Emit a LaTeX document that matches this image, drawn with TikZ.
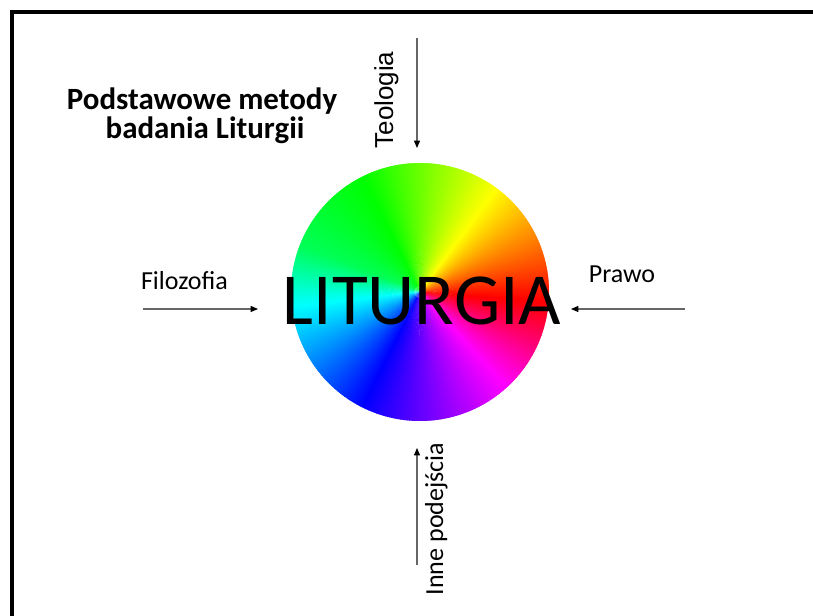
\documentclass[tikz,border=0pt]{standalone}
\usepackage{fontspec}
\setmainfont{Carlito}
\newfontfamily\arialf{Liberation Sans}
\usetikzlibrary{arrows.meta}
\tikzset{
  lbl/.style={inner sep=0pt, font=\fontsize{19.5}{22}\selectfont},
  conn/.style={draw=black!60, line width=0.8pt, -{Triangle[length=5.5pt,width=4.5pt,color=black]}},
}
\begin{document}
\begin{tikzpicture}[x=0.75pt,y=0.75pt]
\useasboundingbox (0,0) rectangle (813,616);
\fill[white] (0,0) rectangle (813,616);
% border (top and left)
\fill[black] (10,602) rectangle (813,606);
\fill[black] (10,0) rectangle (14,606);
% colour wheel (angle -> hue, piecewise)
\coordinate (c) at (420,324);
\foreach \aa/\ha/\ab/\hb in {-5/0/53/60, 53/60/116/120, 116/120/158/140, 158/140/186/180, 186/180/243/240, 243/240/312/300, 312/300/355/360}{
  \pgfmathtruncatemacro{\abm}{\ab-1}
  \foreach \a in {\aa,...,\abm}{
    \pgfmathsetmacro{\hh}{mod(\ha+(\a-\aa)*(\hb-\ha)/(\ab-\aa)+360,360)}
    \definecolor{wc}{Hsb}{\hh,1,1}
    \fill[wc] (c) -- ++(\a:129) arc[start angle=\a, end angle=\a+1.6, radius=129] -- cycle;
  }
}
\fill[white, opacity=0.25] (c) circle[radius=6];
\node[inner sep=0pt, font=\fontsize{55}{60}\selectfont, anchor=base] (lit) at (422,291) {LITURGIA};
% title
\node[inner sep=0pt, anchor=base, font=\bfseries\fontsize{23.2}{26}\selectfont] (t1) at (202,506) {Podstawowe metody};
\node[inner sep=0pt, anchor=base, font=\bfseries\fontsize{23.2}{26}\selectfont] (t2) at (205,477) {badania Liturgii};
% labels
\node[lbl, font=\arialf\fontsize{19.5}{22}\selectfont, rotate=90, anchor=base] (teo) at (393,516) {Teologia};
\node[lbl, rotate=90, anchor=base] (inne) at (443,97) {Inne podejścia};
\node[lbl, anchor=base] (filo) at (184.5,326) {Filozofia};
\node[lbl, anchor=base] (prawo) at (622,333) {Prawo};
% arrows
\coordinate (teoS) at (417,578);
\coordinate (teoE) at (417,468);
\coordinate (inS) at (417,51);
\coordinate (inE) at (417,168);
\coordinate (fiS) at (143,307);
\coordinate (fiE) at (258,307);
\coordinate (prS) at (685,307);
\coordinate (prE) at (571,307);
\draw[conn] (teoS) -- (teoE);
\draw[conn] (inS) -- (inE);
\draw[conn] (fiS) -- (fiE);
\draw[conn] (prS) -- (prE);
\end{tikzpicture}
\end{document}
